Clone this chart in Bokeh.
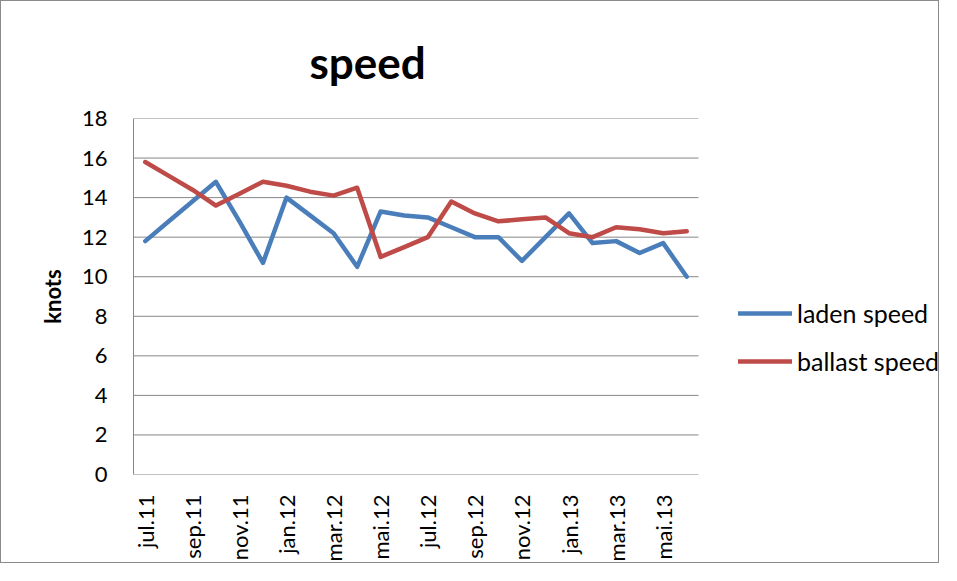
import math
from bokeh.plotting import figure
from bokeh.models import Range1d, Legend, LegendItem, Title, FixedTicker
from bokeh.embed import file_html
from bokeh.resources import INLINE

months = ["jul.11", "aug.11", "sep.11", "okt.11", "nov.11", "des.11",
          "jan.12", "feb.12", "mar.12", "apr.12", "mai.12", "jun.12",
          "jul.12", "aug.12", "sep.12", "okt.12", "nov.12", "des.12",
          "jan.13", "feb.13", "mar.13", "apr.13", "mai.13", "jun.13"]
laden_speed = [11.8, 12.8, 13.8, 14.8, 12.8, 10.7, 14.0, 13.1, 12.2, 10.5, 13.3, 13.1,
               13.0, 12.5, 12.0, 12.0, 10.8, 12.0, 13.2, 11.7, 11.8, 11.2, 11.7, 10.0]
ballast_speed = [15.8, 15.1, 14.4, 13.6, 14.2, 14.8, 14.6, 14.3, 14.1, 14.5, 11.0, 11.5,
                 12.0, 13.8, 13.2, 12.8, 12.9, 13.0, 12.2, 12.0, 12.5, 12.4, 12.2, 12.3]
y_ticks = [0, 2, 4, 6, 8, 10, 12, 14, 16, 18]

FONT = "Lato"
GREY = "#868686"

W, H = 939, 563
LEFT, TOP, BOTTOM = 132, 117, 90
PLOT_PX = 565              # width of the gridded plot area
FRAME_PX = W - LEFT        # frame extends to the right edge so the legend is not clipped

idx = list(range(len(months)))
label_idx = idx[::2]
x_start = -0.5
x_end = x_start + len(months) * FRAME_PX / PLOT_PX

p = figure(width=W, height=H, output_backend="svg", toolbar_location=None,
           x_range=Range1d(x_start, x_end), y_range=Range1d(0, 18),
           min_border_left=LEFT, min_border_right=0, min_border_top=TOP, min_border_bottom=BOTTOM)
p.styles = {"border": "1px solid #8a8a8a"}
p.outline_line_color = None
p.background_fill_color = "white"
p.border_fill_color = "white"

t = Title(text="speed", align="left", offset=176, standoff=62,
          text_font=FONT, text_font_size="44px", text_font_style="bold", text_color="black")
p.add_layout(t, "above")

# horizontal gridlines limited to the category span
n = len(y_ticks)
p.segment(x0=[x_start] * n, x1=[len(months) - 0.5] * n, y0=y_ticks, y1=y_ticks,
          line_color=GREY, line_width=1)

r1 = p.line(idx, laden_speed, line_color="#4A7EBB", line_width=4.5, line_join="round", line_cap="round")
r2 = p.line(idx, ballast_speed, line_color="#BE4B48", line_width=4.5, line_join="round", line_cap="round")

# axes
p.xaxis.ticker = FixedTicker(ticks=label_idx)
p.xaxis.major_label_overrides = {i: months[i] for i in label_idx}
p.xaxis.major_label_orientation = math.pi / 2
p.xaxis.major_tick_line_color = None
p.xaxis.minor_tick_line_color = None
p.xaxis.axis_line_color = None
p.xaxis.major_label_text_font = FONT
p.xaxis.major_label_text_font_size = "22px"
p.xaxis.major_label_text_color = "black"
p.xaxis.major_label_standoff = 14

p.yaxis.ticker = y_ticks
p.yaxis.major_tick_line_color = None
p.yaxis.minor_tick_line_color = None
p.yaxis.axis_line_color = GREY
p.yaxis.major_label_text_font = FONT
p.yaxis.major_label_text_font_size = "22px"
p.yaxis.major_label_text_color = "black"
p.yaxis.major_label_standoff = 20
p.yaxis.axis_label = "knots"
p.yaxis.axis_label_text_font = FONT
p.yaxis.axis_label_text_font_size = "22px"
p.yaxis.axis_label_text_font_style = "bold"
p.yaxis.axis_label_text_color = "black"
p.yaxis.axis_label_standoff = 13

p.xgrid.grid_line_color = None
p.ygrid.grid_line_color = None

legend = Legend(items=[LegendItem(label="laden speed", renderers=[r1]),
                       LegendItem(label="ballast speed", renderers=[r2])],
                location=(605, 98), orientation="vertical",
                glyph_width=54, glyph_height=30, label_height=30, label_standoff=5,
                spacing=18, padding=0, margin=0,
                label_text_font=FONT, label_text_font_size="25px", label_text_color="black",
                background_fill_alpha=0, border_line_alpha=0)
p.add_layout(legend, "center")

open("out.html", "w").write(file_html(p, INLINE))
